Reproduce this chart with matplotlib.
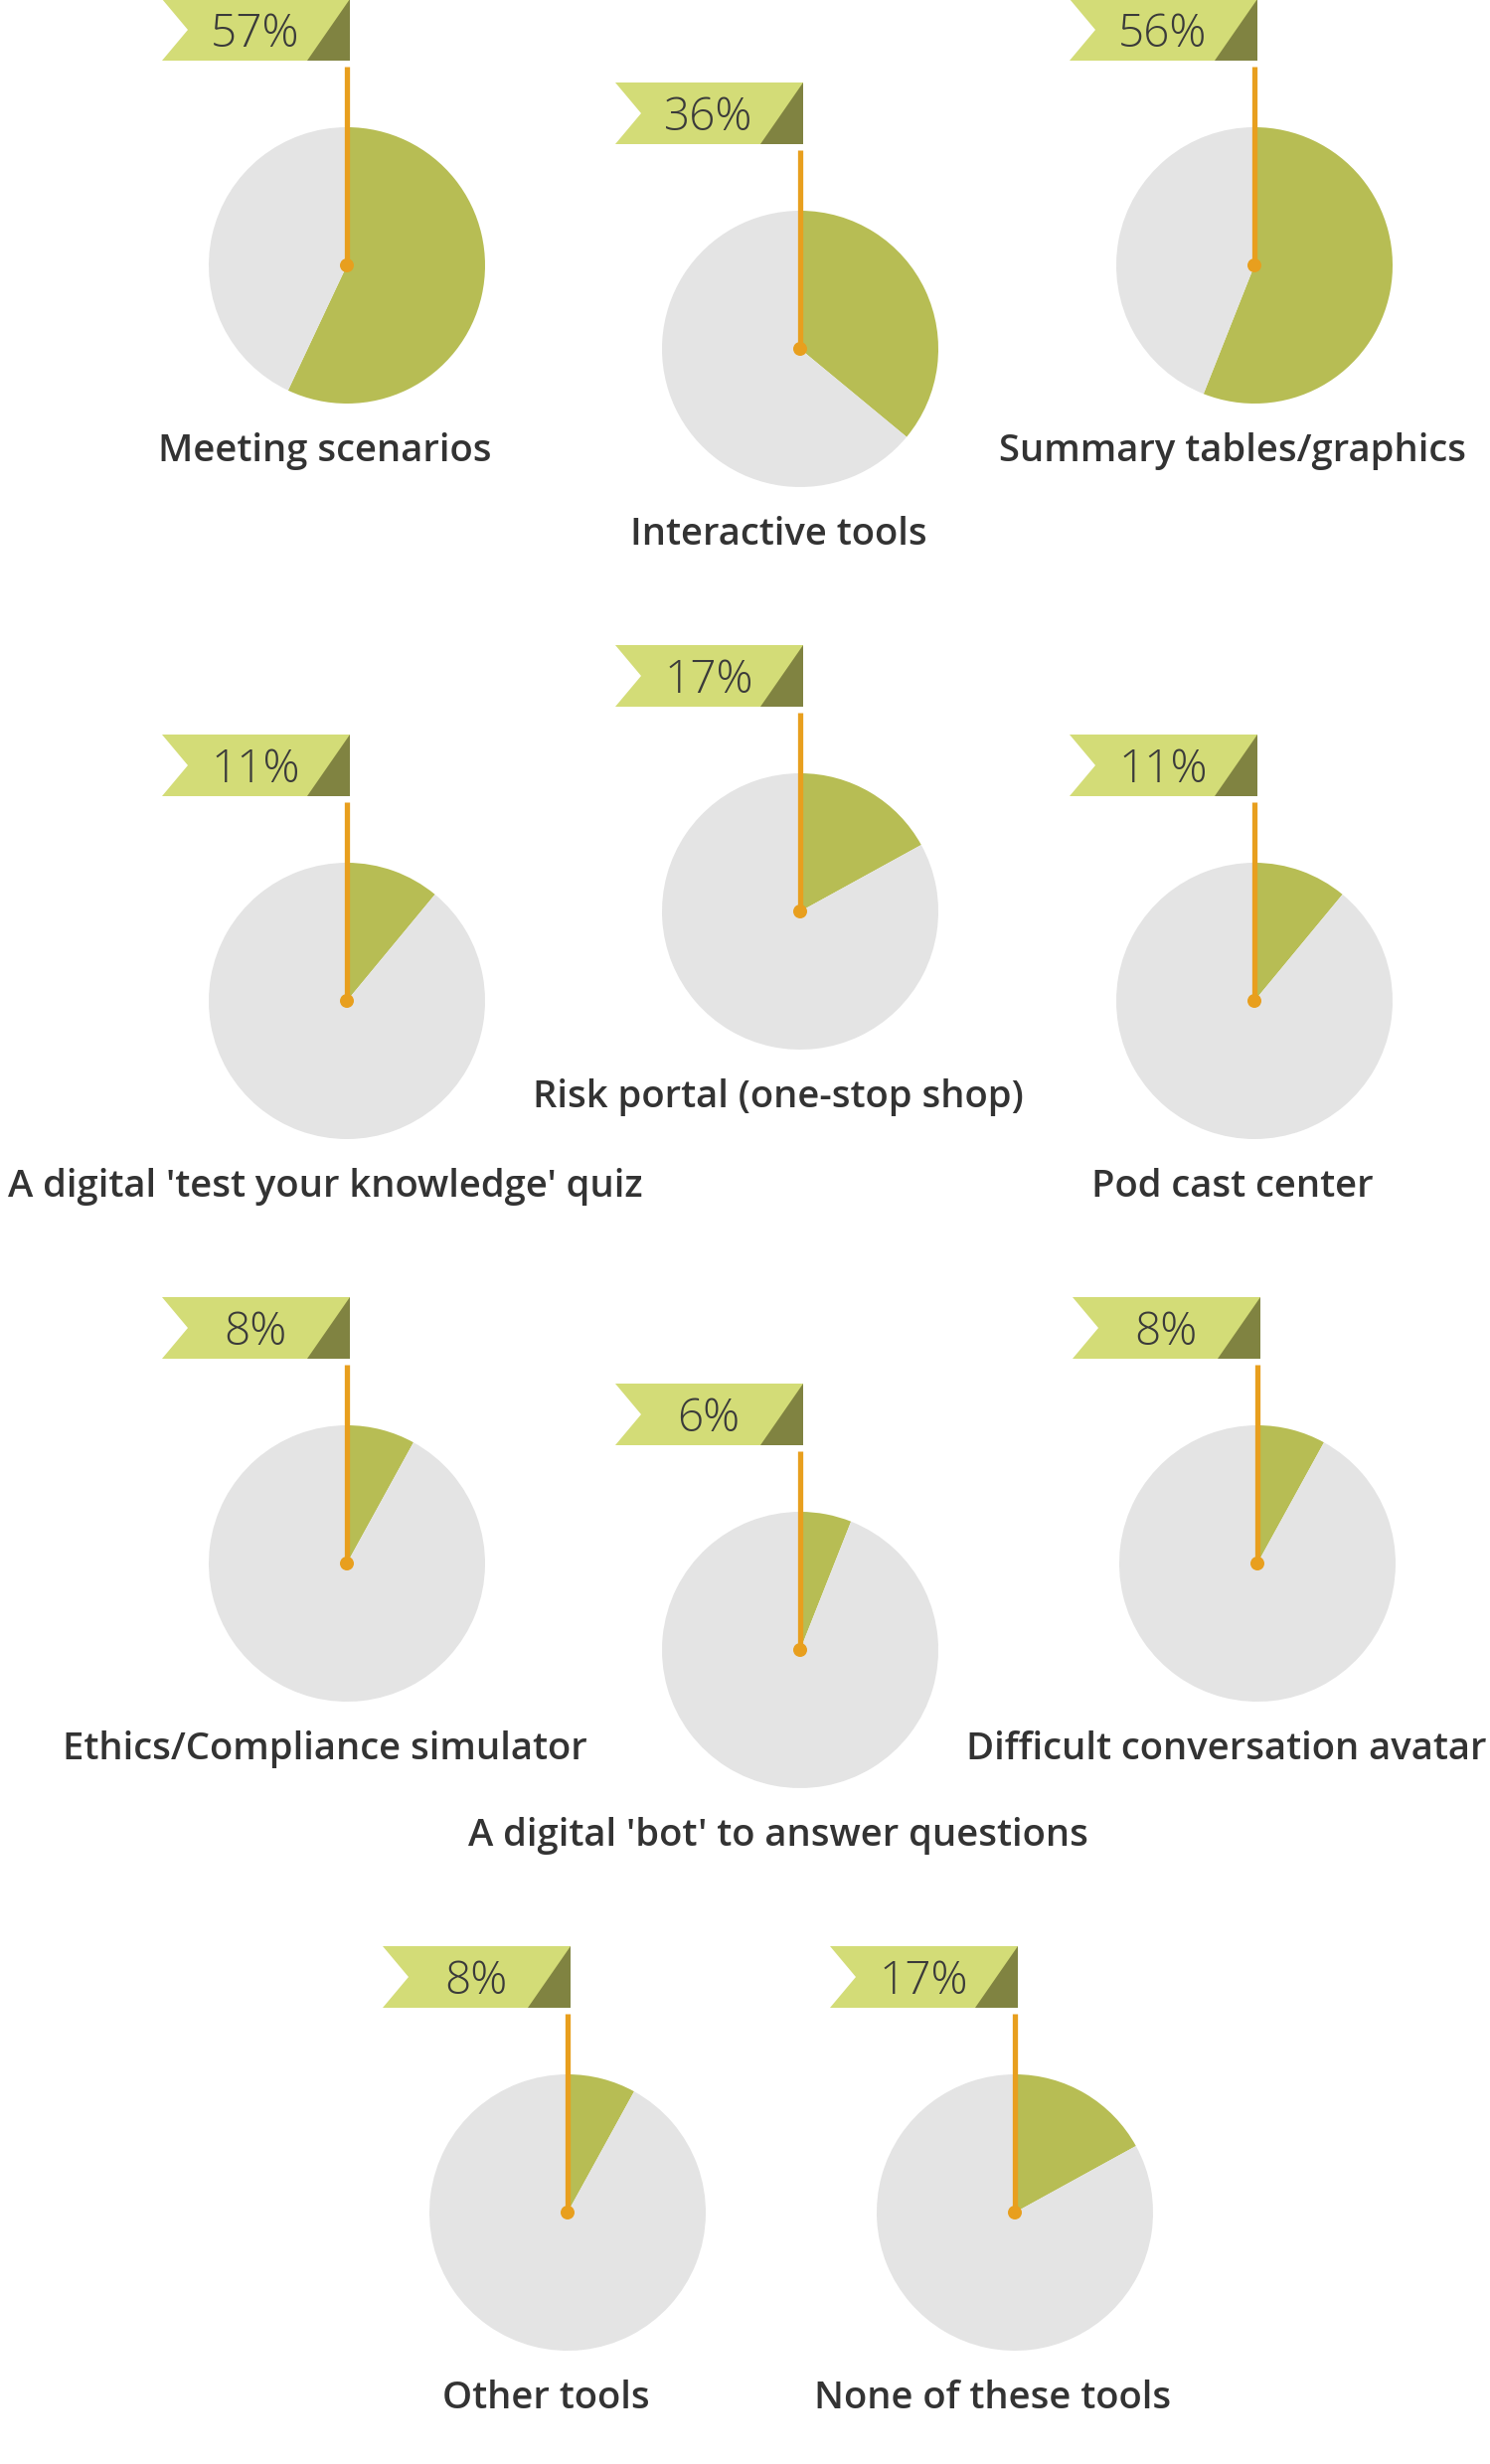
import matplotlib
matplotlib.use("Agg")
import matplotlib.pyplot as plt
from matplotlib.patches import Polygon, Circle

# data
labels = ["Meeting scenarios", "Interactive tools", "Summary tables/graphics",
          "A digital 'test your knowledge' quiz", "Risk portal (one-stop shop)", "Pod cast center",
          "Ethics/Compliance simulator", "A digital 'bot' to answer questions", "Difficult conversation avatar",
          "Other tools", "None of these tools"]
values = [57, 36, 56, 11, 17, 11, 8, 6, 8, 8, 17]

# layout: pie centres in pixels (y down)
centers = [(349, 267), (805, 351), (1262, 267),
           (349, 1007), (805, 917), (1262, 1007),
           (349, 1573), (805, 1660), (1265, 1573),
           (571, 2226), (1021, 2226)]

W, H = 1499, 2479
R = 139
green = "#b7bd54"
grey = "#e4e4e4"
orange = "#e89f1e"
flag_light = "#d3dc77"
flag_dark = "#808341"
txt = "#333333"

fig = plt.figure(figsize=(W / 100, H / 100), dpi=100)
ax = fig.add_axes([0, 0, 1, 1])

label_texts = []
for lab, v, (cx, py) in zip(labels, values, centers):
    cy = H - py
    ax.pie([v, 100 - v], colors=[green, grey], startangle=90, counterclock=False,
           center=(cx, cy), radius=R, wedgeprops=dict(linewidth=0))
    # flag
    top, bot = cy + 268, cy + 206
    ax.add_patch(Polygon([(cx - 186, top), (cx + 3, top), (cx + 3, bot), (cx - 186, bot),
                          (cx - 160, (top + bot) / 2)], closed=True, fc=flag_light, ec="none"))
    ax.add_patch(Polygon([(cx - 40, bot), (cx + 3, bot), (cx + 3, top)], closed=True,
                         fc=flag_dark, ec="none"))
    ax.text(cx - 92, (top + bot) / 2 - 5, f"{v}%", ha="center", va="center", fontsize=33,
            family="Open Sans", weight="light", color="#3a3a3a")
    # stick
    ax.plot([cx, cx], [cy + 200, cy], color=orange, lw=3.8, solid_capstyle="butt")
    ax.add_patch(Circle((cx, cy), 7, fc=orange, ec="none", zorder=5))
    t = ax.text(cx - 22, cy - 187, lab, ha="center", va="center", fontsize=27.5,
                family="Open Sans", weight="semibold", color=txt)
    label_texts.append(t)

ax.set_xlim(0, W)
ax.set_ylim(0, H)
ax.set_aspect("equal")
ax.axis("off")

# keep labels inside the picture
fig.canvas.draw()
r = fig.canvas.get_renderer()
for t in label_texts:
    bb = t.get_window_extent(r)
    if bb.x1 > W - 3:
        x, y = t.get_position()
        t.set_position((x - (bb.x1 - (W - 3)), y))
    elif bb.x0 < 3:
        x, y = t.get_position()
        t.set_position((x + (3 - bb.x0), y))

fig.savefig("out.png", dpi=100, facecolor="white")
